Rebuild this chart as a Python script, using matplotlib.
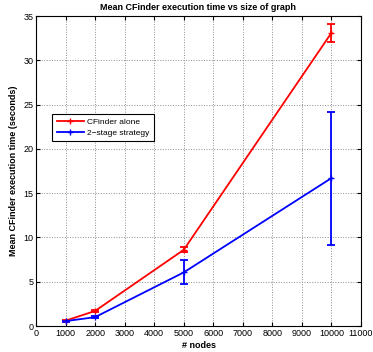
import matplotlib
matplotlib.use("Agg")
import matplotlib.pyplot as plt
from matplotlib.lines import Line2D

# mean execution time per graph size
nodes = [1000, 2000, 5000, 10000]
cfinder_mean = [0.6, 1.7, 8.6, 33.1]
cfinder_err = [0.05, 0.1, 0.3, 1.0]
twostage_mean = [0.55, 1.0, 6.05, 16.7]
twostage_err = [0.05, 0.1, 1.35, 7.5]

plt.rcParams['font.family'] = ['Liberation Sans', 'DejaVu Sans']

fig = plt.figure(figsize=(3.73, 3.52), dpi=100)
ax = fig.add_axes([36/373, 26/352, 325/373, 310/352])

ax.errorbar(nodes, cfinder_mean, yerr=cfinder_err, color='red', lw=1.3,
            marker='+', ms=4, capsize=3, elinewidth=1.3, capthick=1.3)
ax.errorbar(nodes, twostage_mean, yerr=twostage_err, color='blue', lw=1.3,
            marker='+', ms=4, capsize=3, elinewidth=1.3, capthick=1.3)

ax.set_xlim(0, 11000)
ax.set_ylim(0, 35)
ax.set_xticks(range(0, 11001, 1000))
ax.set_yticks(range(0, 36, 5))
ax.tick_params(direction='in', top=True, right=True, labelsize=6.5, length=3, pad=2)
ax.grid(True, ls=':', color='0.55', lw=0.7)
for s in ax.spines.values():
    s.set_linewidth(0.8)

ax.set_title('Mean CFinder execution time vs size of graph', fontsize=6.5,
             fontweight='bold', pad=4)
ax.set_xlabel('# nodes', fontsize=6.5, fontweight='bold', labelpad=2)
ax.set_ylabel('Mean CFinder execution time (seconds)', fontsize=6.5,
              fontweight='bold', labelpad=4)

handles = [Line2D([], [], color='red', lw=1.3, marker='+', ms=4),
           Line2D([], [], color='blue', lw=1.3, marker='+', ms=4)]
leg = ax.legend(handles, ['CFinder alone', '2\u2212stage strategy'],
                loc='upper left', bbox_to_anchor=(0.05, 0.685), fontsize=6,
                fancybox=False, framealpha=1, edgecolor='black',
                handlelength=3.2, handletextpad=0.4, borderpad=0.55,
                labelspacing=0.35, borderaxespad=0)
leg.get_frame().set_linewidth(0.8)

fig.savefig('out.png', dpi=100)
